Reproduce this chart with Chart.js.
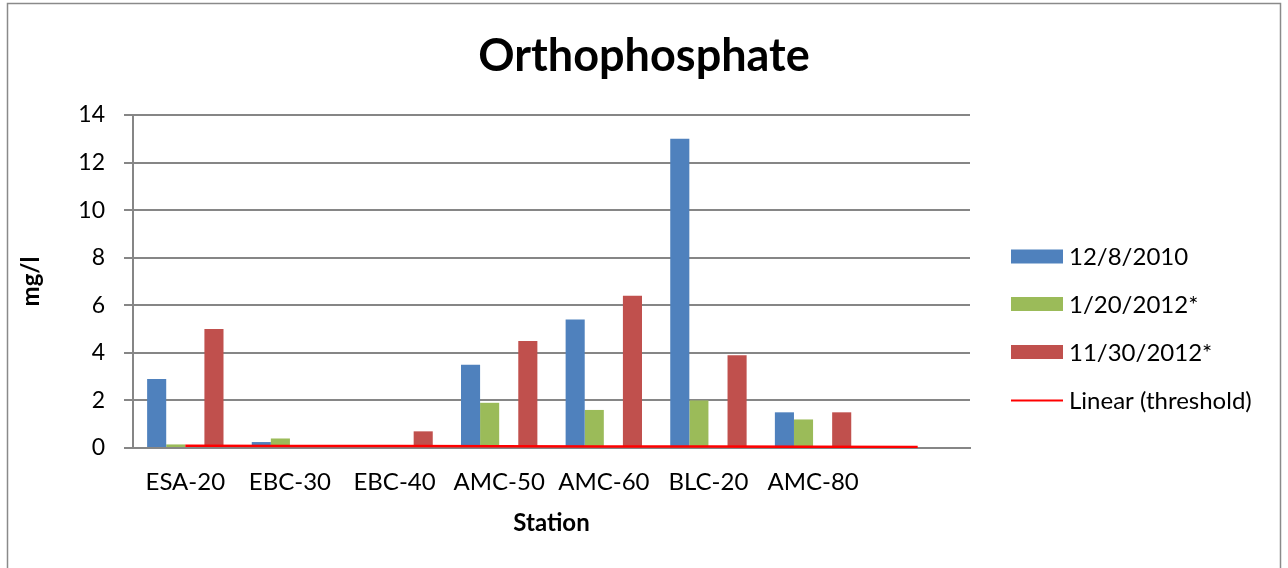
<!DOCTYPE html>
<html>
<head>
<meta charset="utf-8">
<script src="https://cdn.jsdelivr.net/npm/chart.js@4/dist/chart.umd.min.js"></script>
<style>
  html, body { margin: 0; padding: 0; background: #fff; }
  #wrap { position: relative; width: 1288px; height: 568px; overflow: hidden; }
  canvas { display: block; }
</style>
</head>
<body>
<div id="wrap"><canvas id="chart" width="1288" height="568"></canvas></div>
<script>
// Sampling stations (last slot is an empty category)
const stations = ['ESA-20', 'EBC-30', 'EBC-40', 'AMC-50', 'AMC-60', 'BLC-20', 'AMC-80', ''];

// Orthophosphate results, mg/l
const dec2010 = [2.9, 0.25, null, 3.5, 5.4, 13.0, 1.5, null];
const jan2012 = [0.15, 0.4, null, 1.9, 1.6, 2.0, 1.2, null];
const nov2012 = [5.0, null, 0.7, 4.5, 6.4, 3.9, 1.5, null];

// Threshold series keeps its own (empty) bar slot; its linear trend is drawn as a line
const thresholdBars = [null, null, null, null, null, null, null, null];
const thresholdTrend = [0.09, 0.08, 0.08, 0.07, 0.06, 0.06, 0.05, 0.04];

// Value axis
const yMin = 0, yMax = 14, yStep = 2;

const BLUE = '#4F81BD', GREEN = '#9BBB59', RED = '#C0504D', LINE_RED = '#FF0000';
const GRID = '#868686';
const FONT = 'Lato, "Open Sans", sans-serif';
const LEGEND_WIDTH = 318;

// Outer frame of the chart
const framePlugin = {
  id: 'frame',
  beforeDraw(chart) {
    const c = chart.ctx;
    c.save();
    c.fillStyle = '#fff';
    c.fillRect(0, 0, chart.width, chart.height);
    c.strokeStyle = '#8a8a8a';
    c.lineWidth = 1.5;
    c.strokeRect(7.5, 3.5, 1273, 620);
    c.restore();
  }
};

// Reserves a column on the right (below the full-width title) and draws the legend in it
const sideLegend = {
  id: 'sideLegend',
  beforeInit(chart) {
    const box = {
      position: 'right',
      weight: 1000,
      fullSize: false,
      options: { stack: undefined, stackWeight: 1 },
      left: 0, top: 0, right: 0, bottom: 0, width: 0, height: 0,
      isHorizontal() { return false; },
      update(maxWidth, maxHeight) {
        this.width = LEGEND_WIDTH;
        this.height = maxHeight;
      },
      draw() {}
    };
    Chart.layouts.addBox(chart, box);
  },
  afterDraw(chart) {
    const c = chart.ctx;
    const items = chart.data.datasets.filter(d => d.inLegend);
    const x0 = 1011, boxW = 52, boxH = 14;
    const ys = [256.5, 304, 352, 400.5];
    c.save();
    c.font = '24px ' + FONT;
    c.textBaseline = 'middle';
    items.forEach((d, i) => {
      const y = ys[i];
      if (d.type === 'line') {
        c.strokeStyle = d.borderColor;
        c.lineWidth = 2;
        c.beginPath();
        c.moveTo(x0, y);
        c.lineTo(x0 + boxW, y);
        c.stroke();
      } else {
        c.fillStyle = d.backgroundColor;
        c.fillRect(x0, y - boxH / 2, boxW, boxH);
      }
      c.fillStyle = '#000';
      c.fillText(d.label, x0 + boxW + 6, y + 1);
    });
    c.restore();
  }
};

new Chart(document.getElementById('chart'), {
  data: {
    labels: stations,
    datasets: [
      { type: 'bar', label: '12/8/2010', data: dec2010, backgroundColor: BLUE, order: 1, inLegend: true },
      { type: 'bar', label: '1/20/2012*', data: jan2012, backgroundColor: GREEN, order: 1, inLegend: true },
      { type: 'bar', label: 'threshold', data: thresholdBars, backgroundColor: 'rgba(0,0,0,0)', order: 1, inLegend: false },
      { type: 'bar', label: '11/30/2012*', data: nov2012, backgroundColor: RED, order: 1, inLegend: true },
      { type: 'line', label: 'Linear (threshold)', data: thresholdTrend, borderColor: LINE_RED,
        borderWidth: 2.5, pointRadius: 0, fill: false, tension: 0, order: 0, inLegend: true }
    ]
  },
  options: {
    responsive: false,
    devicePixelRatio: 1,
    animation: false,
    layout: { padding: { left: 0, right: 0, top: 0, bottom: 0 } },
    datasets: {
      bar: { categoryPercentage: 0.73, barPercentage: 1.0 }
    },
    plugins: {
      legend: { display: false },
      tooltip: { enabled: false },
      title: {
        display: true,
        text: 'Orthophosphate',
        color: '#000',
        font: { family: FONT, size: 45, weight: 'bold' },
        padding: { top: 29, bottom: 32 }
      }
    },
    scales: {
      x: {
        offset: true,
        grid: { display: false, drawTicks: false },
        border: { display: true, color: GRID, width: 2 },
        ticks: { color: '#000', font: { family: FONT, size: 24 }, padding: 20, maxRotation: 0, autoSkip: false },
        title: {
          display: true, text: 'Station', color: '#000',
          font: { family: FONT, size: 24, weight: 'bold' },
          padding: { top: 0, bottom: 30 }
        },
        afterFit(scale) { scale.height = 120; }
      },
      y: {
        min: yMin, max: yMax,
        ticks: { stepSize: yStep, color: '#000', font: { family: FONT, size: 23 }, padding: 19 },
        grid: { color: GRID, lineWidth: 2, drawTicks: true, tickLength: 9 },
        border: { display: true, color: GRID, width: 2 },
        title: {
          display: true, text: 'mg/l', color: '#000',
          font: { family: FONT, size: 24, weight: 'bold' },
          padding: { top: 17, bottom: 0 }
        },
        afterFit(scale) { scale.width = 133; }
      }
    }
  },
  plugins: [framePlugin, sideLegend]
});
</script>
</body>
</html>
